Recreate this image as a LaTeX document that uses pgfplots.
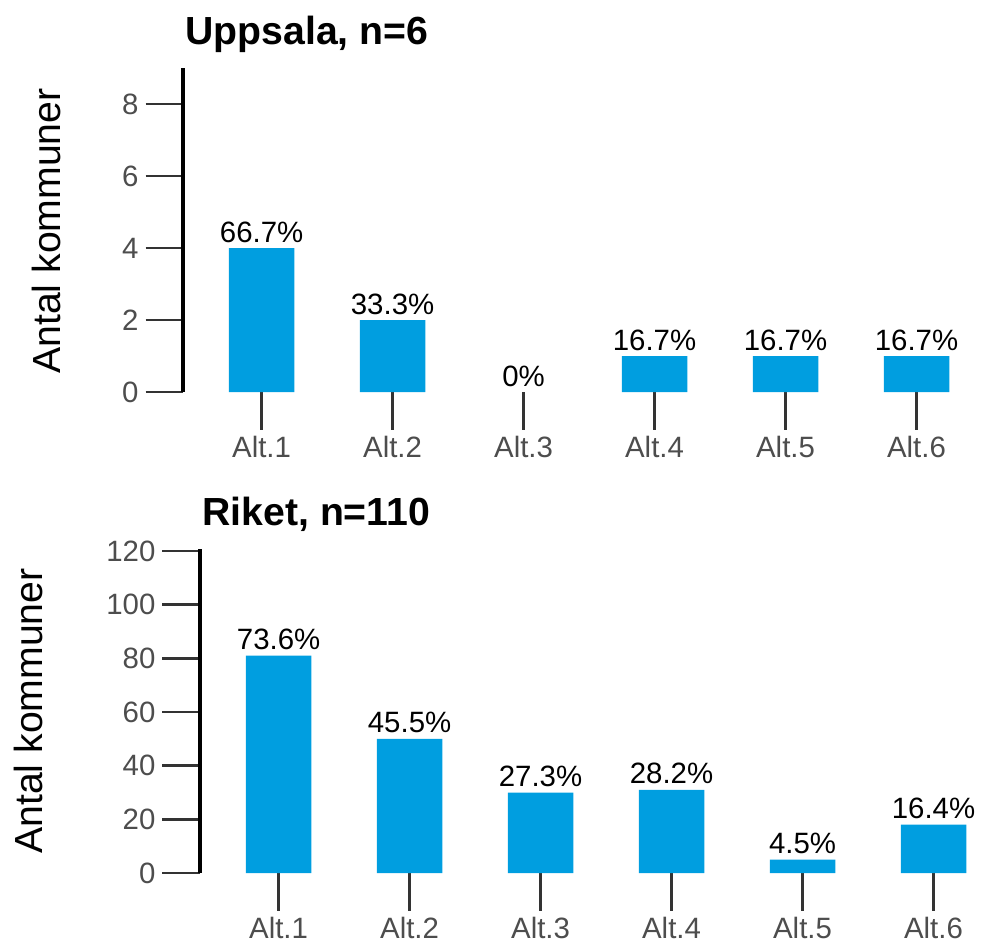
\documentclass[border=0pt]{standalone}
\usepackage{fontspec}
\setmainfont{Liberation Sans}
\usepackage{pgfplots}
\pgfplotsset{compat=1.18}
\usepackage{pgfplotstable}
\definecolor{barblue}{RGB}{0,158,224}
\definecolor{tickgray}{RGB}{51,51,51}
\definecolor{labgray}{RGB}{77,77,77}

\pgfplotstableread{
x y lab
0 4 66.7
1 2 33.3
2 0 0
3 1 16.7
4 1 16.7
5 1 16.7
}\uppsala

\pgfplotstableread{
x y
0 4
1 2
3 1
4 1
5 1
}\uppsalabars

\pgfplotstableread{
x y lab
0 81 73.6
1 50 45.5
2 30 27.3
3 31 28.2
4 5 4.5
5 18 16.4
}\riket

\pgfplotsset{
  mystyle/.style={
    scale only axis, width=399.5pt, height=162pt,
    xmin=-0.6, xmax=5.5, ymin=0,
    axis x line=bottom, axis y line=left,
    x axis line style={draw=none},
    y axis line style={-, line width=2pt, black},
    tick align=outside,
    major tick length=18.75pt,
    every tick/.style={tickgray, line width=1.3pt},
    xtick={0,...,5},
    xticklabels={Alt.1,Alt.2,Alt.3,Alt.4,Alt.5,Alt.6},
    tick label style={font=\fontsize{14.7}{16}\selectfont, text=labgray},
    /pgf/number format/assume math mode=true,
    ybar, bar width=0.5, bar shift=0pt,
    clip=false,
    every axis title/.style={at={(rel axis cs:0,1)}, anchor=base west, inner sep=0pt, xshift=1pt, yshift=11.75pt, font=\bfseries\fontsize{19.6}{22}\selectfont},
  },
  labelplot/.style={
    draw=none, fill=none,
    nodes near coords={\pgfplotspointmeta\%},
    nodes near coords style={font=\fontsize{14.7}{16}\selectfont, text=black, anchor=base, inner sep=0pt, yshift=3pt},
    point meta=explicit symbolic,
  }
}

\begin{document}
\begin{tikzpicture}
\useasboundingbox (0,0) rectangle (491.5pt,-472pt);

\begin{axis}[mystyle,
  at={(91.5pt,-196pt)}, anchor=south west,
  ymax=9, ytick={0,2,4,6,8},
  title={Uppsala, n=6}]
\addplot[fill=barblue, draw=none] table[x=x, y=y] {\uppsalabars};
\addplot[labelplot] table[x=x, y=y, meta=lab] {\uppsala};
\end{axis}
\node[rotate=90, anchor=base, font=\fontsize{19.6}{22}\selectfont] at (30pt,-115.5pt) {Antal kommuner};

\begin{axis}[mystyle,
  at={(100pt,-436.5pt)}, anchor=south west,
  ymax=120.75, ytick={0,20,...,120},
  title={Riket, n=110}]
\addplot[fill=barblue, draw=none] table[x=x, y=y] {\riket};
\addplot[labelplot] table[x=x, y=y, meta=lab] {\riket};
\end{axis}
\node[rotate=90, anchor=base, font=\fontsize{19.6}{22}\selectfont] at (21pt,-355.5pt) {Antal kommuner};
\end{tikzpicture}
\end{document}
